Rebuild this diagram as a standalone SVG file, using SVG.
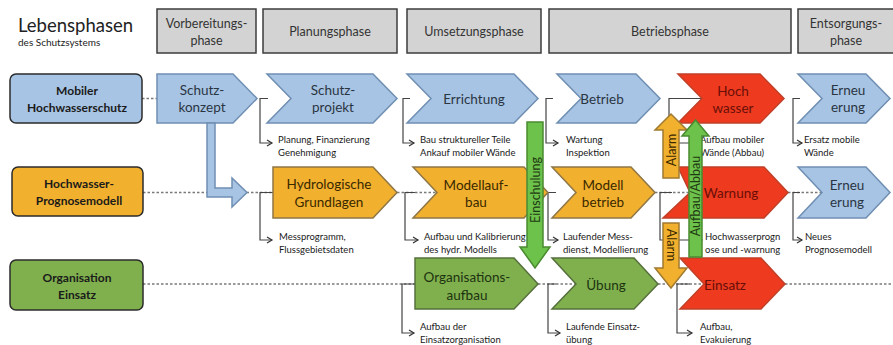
<svg xmlns="http://www.w3.org/2000/svg" width="893" height="345" viewBox="0 0 893 345">
<defs>
<marker id="ah" markerWidth="8" markerHeight="8" refX="6" refY="4" orient="auto" markerUnits="userSpaceOnUse"><path d="M1,1 L6,4 L1,7" fill="none" stroke="#333" stroke-width="1.2"/></marker>
</defs>
<style>
text{font-family:Lato,"Liberation Sans",sans-serif}
.hdr rect{fill:#d3d3d3;stroke:#3c3c3c;stroke-width:1.5}
.hdr text{font-size:12.5px;fill:#333;text-anchor:middle}
.lbl rect{stroke:#2b2b2b;stroke-width:1.5}
.lbl text{font-size:12px;font-weight:bold;fill:#1a1a1a;text-anchor:middle}
.blue polygon{fill:#a8c4e4;stroke:#6f8fb2;stroke-width:1.5}
.blue text{fill:#2a3542}
.org polygon{fill:#f1b02e;stroke:#8f7646;stroke-width:1.5}
.org text{fill:#3a2800}
.grn polygon{fill:#80b04e;stroke:#56703c;stroke-width:1.5}
.grn text{fill:#1d3310}
.red polygon{fill:#ee3b1f;stroke:#c04028;stroke-width:1.5}
.red text{fill:#6a0e08}
.node text{font-size:13.5px;text-anchor:middle}
.dash{stroke:#7a7a7a;stroke-width:1.5;stroke-dasharray:2.5 2;fill:none}
.brk{stroke:#444;stroke-width:1.2;fill:none;marker-end:url(#ah)}
.note{font-size:9.5px;fill:#1a1a1a}
.arr text{font-size:12.5px;text-anchor:middle}
</style>
<rect width="893" height="345" fill="#ffffff"/>

<g id="title">
<text x="18" y="32" font-size="18.5" fill="#222">Lebensphasen</text>
<text x="18" y="46" font-size="10" fill="#222">des Schutzsystems</text>
</g>

<g id="header-vorbereitung" class="hdr"><rect x="157" y="9" width="99" height="44"/><text x="206.5" y="28">Vorbereitungs-</text><text x="206.5" y="45">phase</text></g>
<g id="header-planung" class="hdr"><rect x="263" y="9" width="134" height="44"/><text x="330" y="36">Planungsphase</text></g>
<g id="header-umsetzung" class="hdr"><rect x="407" y="9" width="134" height="44"/><text x="474" y="36">Umsetzungsphase</text></g>
<g id="header-betrieb" class="hdr"><rect x="549" y="9" width="242" height="44"/><text x="670" y="36">Betriebsphase</text></g>
<g id="header-entsorgung" class="hdr"><rect x="798" y="9" width="100" height="44"/><text x="846" y="28">Entsorgungs-</text><text x="846" y="45">phase</text></g>

<g id="connectors">
<path class="dash" d="M142,98.5 H157"/>
<path class="dash" d="M143,192.5 H273 M397,192.5 H437 M655,192.5 H690 M788,192.5 H822"/>
<path class="dash" d="M143,284 H415 M538,284 H576 M658,284 H704 M785,284 H893"/>
<path class="brk" d="M268,98.5 H260 V143 H272"/>
<path class="brk" d="M410,98.5 H403 V143 H414"/>
<path class="brk" d="M553,98.5 H546 V143 H558"/>
<path class="brk" d="M702,98.5 H669 V143 H698"/>
<path class="brk" d="M800,98.5 H793 V143 H802"/>
<path class="brk" d="M273,192.5 H260 V240 H272"/>
<path class="brk" d="M415,192.5 H405 V240 H418"/>
<path class="brk" d="M556,192.5 H548 V240 H558"/>
<path class="brk" d="M672,192.5 H660 V240 H702"/>
<path class="brk" d="M800,192.5 H793 V240 H802"/>
<path class="brk" d="M415,284 H402 V333 H414"/>
<path class="brk" d="M556,284 H548 V333 H560"/>
<path class="brk" d="M690,284 H677 V333 H692"/>
</g>

<g id="notes">
<text class="note" x="278" y="143">Planung, Finanzierung</text><text class="note" x="278" y="156">Genehmigung</text>
<text class="note" x="420" y="143">Bau struktureller Teile</text><text class="note" x="420" y="156">Ankauf mobiler Wände</text>
<text class="note" x="566" y="143">Wartung</text><text class="note" x="566" y="156">Inspektion</text>
<text class="note" x="700" y="143">Aufbau mobiler</text><text class="note" x="700" y="156">Wände (Abbau)</text>
<text class="note" x="804" y="143">Ersatz mobile</text><text class="note" x="804" y="156">Wände</text>
<text class="note" x="279" y="239.5">Messprogramm,</text><text class="note" x="279" y="252.5">Flussgebietsdaten</text>
<text class="note" x="424" y="239.5">Aufbau und Kalibrierung</text><text class="note" x="424" y="252.5">des hydr. Modells</text>
<text class="note" x="563" y="239.5">Laufender Mess-</text><text class="note" x="563" y="252.5">dienst, Modellierung</text>
<text class="note" x="705" y="239.5">Hochwasserprogn</text><text class="note" x="705" y="252.5">ose und -warnung</text>
<text class="note" x="805" y="239.5">Neues</text><text class="note" x="805" y="252.5">Prognosemodell</text>
<text class="note" x="420" y="330">Aufbau der</text><text class="note" x="420" y="343">Einsatzorganisation</text>
<text class="note" x="566" y="330">Laufende Einsatz-</text><text class="note" x="566" y="343">übung</text>
<text class="note" x="700" y="330">Aufbau,</text><text class="note" x="700" y="343">Evakuierung</text>
</g>

<g id="label-mobiler" class="lbl"><rect x="10" y="74" width="132" height="49" rx="6" fill="#a8c4e4"/><text x="77" y="95">Mobiler</text><text x="77" y="112">Hochwasserschutz</text></g>
<g id="label-prognose" class="lbl"><rect x="12" y="167" width="131" height="49" rx="6" fill="#f1b02e"/><text x="79" y="188">Hochwasser-</text><text x="79" y="205">Prognosemodell</text></g>
<g id="label-organisation" class="lbl"><rect x="10" y="260" width="133" height="50" rx="6" fill="#80b04e"/><text x="77" y="282">Organisation</text><text x="77" y="299">Einsatz</text></g>

<g id="schutzkonzept" class="node blue"><polygon points="157,74 233,74 257,98.5 233,123 157,123"/><text x="202" y="95">Schutz-</text><text x="202" y="112">konzept</text></g>
<g id="schutzprojekt" class="node blue"><polygon points="267,74 373,74 397,98.5 373,123 267,123 291,98.5"/><text x="333" y="95">Schutz-</text><text x="333" y="112">projekt</text></g>
<g id="errichtung" class="node blue"><polygon points="407,74 514,74 538,98.5 514,123 407,123 431,98.5"/><text x="474" y="104">Errichtung</text></g>
<g id="betrieb" class="node blue"><polygon points="557,74 636,74 660,98.5 636,123 557,123 581,98.5"/><text x="602" y="104">Betrieb</text></g>
<g id="hochwasser" class="node red"><polygon points="678,74 760,74 784,98.5 760,123 678,123 702,98.5"/><text x="733" y="96">Hoch</text><text x="733" y="113">wasser</text></g>
<g id="erneuerung-1" class="node blue"><polygon points="798,74 866,74 890,98.5 866,123 798,123 822,98.5"/><text x="848" y="95">Erneu</text><text x="848" y="112">erung</text></g>

<g id="hydrologische" class="node org"><polygon points="273,167 373,167 397,192.5 373,218 273,218"/><text x="329" y="189" font-size="14.5">Hydrologische</text><text x="329" y="207" font-size="14.5">Grundlagen</text></g>
<g id="modellaufbau" class="node org"><polygon points="413,167 524,167 548,192.5 524,218 413,218 437,192.5"/><text x="476" y="190">Modellauf-</text><text x="476" y="207">bau</text></g>
<g id="modellbetrieb" class="node org"><polygon points="552,167 631,167 655,192.5 631,218 552,218 576,192.5"/><text x="603" y="190">Modell</text><text x="603" y="207">betrieb</text></g>
<g id="warnung" class="node red"><polygon points="678,167 764,167 788,192.5 764,218 663,218 690,192.5"/><text x="731" y="198" font-size="14.5">Warnung</text></g>
<g id="erneuerung-2" class="node blue"><polygon points="798,167 866,167 890,192.5 866,218 798,218 822,192.5"/><text x="847" y="190">Erneu</text><text x="847" y="207">erung</text></g>

<g id="organisationsaufbau" class="node grn"><polygon points="415,258 514,258 538,284 514,309 415,309"/><text x="467" y="282">Organisations-</text><text x="467" y="300">aufbau</text></g>
<g id="uebung" class="node grn"><polygon points="552,258 634,258 658,284 634,309 552,309 576,284"/><text x="606" y="290">Übung</text></g>
<g id="einsatz" class="node red"><polygon points="680,258 761,258 785,284 761,309 680,309 704,284"/><text x="725" y="290" font-size="14">Einsatz</text></g>

<g id="flow-arrows" class="arr">
<path d="M207,123 H215 V188 H232 V178 L247,192.5 L232,207 V197 H207 Z" fill="#a8c4e4" stroke="#6f8fb2" stroke-width="1.5"/>
<g id="arrow-einschulung"><path d="M527,122 H543 V247 H550 L535,268 L520,247 H527 Z" fill="#6cc24a" stroke="#4a8a30" stroke-width="1.5"/><text transform="translate(539.5,190) rotate(-90)" fill="#1f3a12">Einschulung</text></g>
<g id="arrow-alarm-up"><path d="M663,178 H679 V130 H687 L671,114 L655,130 H663 Z" fill="#f1b02e" stroke="#a07a30" stroke-width="1.5"/><text transform="translate(675.5,150) rotate(-90)" fill="#3a2800">Alarm</text></g>
<g id="arrow-alarm-down"><path d="M663,223 H679 V268 H687 L671,288 L655,268 H663 Z" fill="#f1b02e" stroke="#a07a30" stroke-width="1.5"/><text transform="translate(666.5,245) rotate(90)" fill="#3a2800">Alarm</text></g>
<g id="arrow-aufbau-abbau"><path d="M689,257 H702 V136 H709 L695.5,120 L682,136 H689 Z" fill="#6cc24a" stroke="#4a8a30" stroke-width="1.5"/><text transform="translate(700,196) rotate(-90)" fill="#1f3a12">Aufbau/Abbau</text></g>
</g>
</svg>
